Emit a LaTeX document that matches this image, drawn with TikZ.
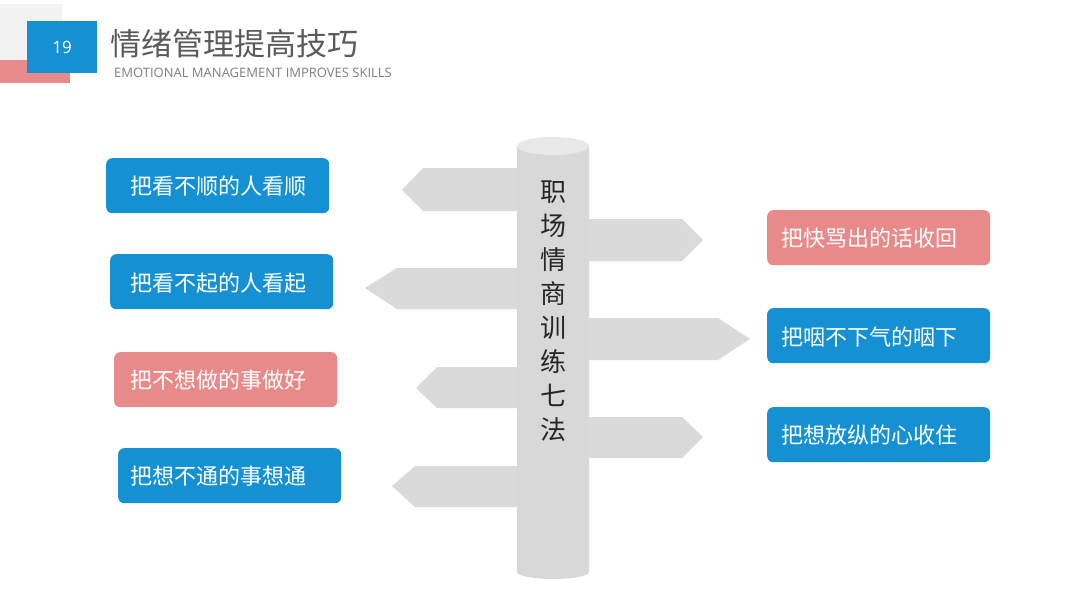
\documentclass[tikz,border=0pt]{standalone}
\usepackage{fontspec}
\setmainfont{Open Sans}
\newfontfamily\cjk{Noto Sans CJK SC}
\newfontfamily\latsans{Open Sans}
\definecolor{cblue}{HTML}{1591D3}
\definecolor{cpink}{HTML}{E88A8A}
\definecolor{csign}{HTML}{DADADA}
\definecolor{cpole}{HTML}{D8D8D8}
\definecolor{cpoletop}{HTML}{E8E8E8}
\definecolor{ctitle}{HTML}{5A5A5A}
\definecolor{csub}{HTML}{7F7F7F}
\definecolor{chdrgray}{HTML}{F2F2F2}
\tikzset{
  bluebox/.style={fill=cblue, draw=none, rounded corners=6pt, minimum width=223pt, minimum height=55pt, inner sep=0pt},
  pinkbox/.style={fill=cpink, draw=none, rounded corners=6pt, minimum width=223pt, minimum height=55pt, inner sep=0pt},
  boxtext/.style={text=white, font=\cjk\fontsize{22}{25}\selectfont, inner sep=0pt, anchor=west},
  sign/.style={fill=csign, draw=none},
}
\begin{document}
\begin{tikzpicture}[x=1pt,y=-1pt]
\useasboundingbox (0,0) rectangle (1080,608);
\fill[white] (0,0) rectangle (1080,608);
% header
\fill[chdrgray] (0,4) rectangle (62,60);
\fill[cpink] (0,60) rectangle (70,83);
\node[fill=cblue, minimum width=70pt, minimum height=52pt, inner sep=0pt, text=white, font=\latsans\fontsize{17}{20}\selectfont] (num) at (62,47) {19};
\node[anchor=west, inner sep=0pt, text=ctitle, font=\cjk\fontsize{31}{35}\selectfont] (title) at (110,44) {情绪管理提高技巧};
\node[anchor=west, inner sep=0pt, text=csub, font=\latsans\fontsize{13}{15}\selectfont] (subtitle) at (114,73) {EMOTIONAL MANAGEMENT IMPROVES SKILLS};
% signs left
\fill[sign] (553,168) -- (423,168) -- (402,190) -- (423,211) -- (553,211) -- cycle;
\fill[sign] (553,268) -- (397,268) -- (365,288) -- (397,309) -- (553,309) -- cycle;
\fill[sign] (553,367) -- (437,367) -- (416,388) -- (437,408) -- (553,408) -- cycle;
\fill[sign] (553,466) -- (415,466) -- (392,486) -- (415,507) -- (553,507) -- cycle;
% signs right
\fill[sign] (553,219) -- (682,219) -- (703,240) -- (682,261) -- (553,261) -- cycle;
\fill[sign] (553,318) -- (718,318) -- (750,339) -- (718,360) -- (553,360) -- cycle;
\fill[sign] (553,417) -- (682,417) -- (703,437) -- (682,458) -- (553,458) -- cycle;
% pole
\fill[cpole] (517,146) -- (517,572) arc[start angle=180, end angle=360, x radius=36, y radius=-7] -- (589,146) -- cycle;
\fill[cpoletop] (553,146) ellipse[x radius=36, y radius=9];
\node[inner sep=0pt, align=center, text=black!85, font=\cjk\fontsize{26}{34}\selectfont] (pole) at (553,311) {职\\场\\情\\商\\训\\练\\七\\法};
% left boxes
\node[bluebox, anchor=north west] (l1) at (106,158) {};
\node[boxtext] (lt1) at (130,186) {把看不顺的人看顺};
\node[bluebox, anchor=north west] (l2) at (110,254) {};
\node[boxtext] (lt2) at (130,283) {把看不起的人看起};
\node[pinkbox, anchor=north west] (l3) at (114,352) {};
\node[boxtext] (lt3) at (130,380) {把不想做的事做好};
\node[bluebox, anchor=north west] (l4) at (118,448) {};
\node[boxtext] (lt4) at (130,476) {把想不通的事想通};
% right boxes
\node[pinkbox, anchor=north west] (r1) at (767,210) {};
\node[boxtext] (rt1) at (781,238) {把快骂出的话收回};
\node[bluebox, anchor=north west] (r2) at (767,308) {};
\node[boxtext] (rt2) at (781,337) {把咽不下气的咽下};
\node[bluebox, anchor=north west] (r3) at (767,407) {};
\node[boxtext] (rt3) at (781,435) {把想放纵的心收住};
\end{tikzpicture}
\end{document}
